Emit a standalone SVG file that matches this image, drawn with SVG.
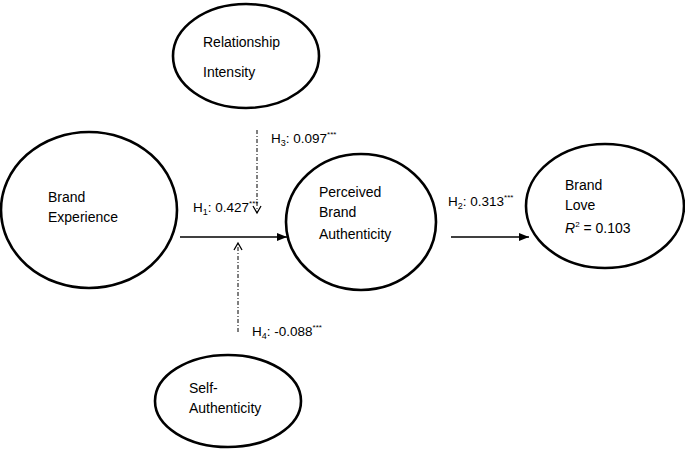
<svg xmlns="http://www.w3.org/2000/svg" width="685" height="449" viewBox="0 0 685 449">
<defs>
<marker id="solid" markerWidth="10" markerHeight="8" refX="10" refY="4" orient="auto" markerUnits="userSpaceOnUse">
<path d="M0,0 L10,4 L0,8 Z" fill="#000"/>
</marker>
<marker id="open" markerWidth="10" markerHeight="10" refX="8" refY="5" orient="auto" markerUnits="userSpaceOnUse">
<path d="M1,1 L8,5 L1,9" fill="none" stroke="#000" stroke-width="1.3"/>
</marker>
</defs>
<style>
.node ellipse{fill:#fff;stroke:#000;stroke-width:2.6}
text{font-family:"Liberation Sans",Arial,sans-serif;font-size:14px;fill:#000}
.lbl{font-size:13.5px}
.sup{font-size:8px}
.sub{font-size:9px}
.solid{stroke:#000;stroke-width:1.3;fill:none}
.dd{stroke:#000;stroke-width:1;fill:none;stroke-dasharray:4 2 1 2}
</style>
<rect width="685" height="449" fill="#fff"/>
<g id="relationship-intensity" class="node">
<ellipse cx="246" cy="56" rx="73" ry="52"/>
<text x="203" y="47">Relationship</text>
<text x="203" y="77">Intensity</text>
</g>
<g id="brand-experience" class="node">
<ellipse cx="89" cy="210" rx="88" ry="78"/>
<text x="48" y="202">Brand</text>
<text x="48" y="222">Experience</text>
</g>
<g id="perceived-brand-authenticity" class="node">
<ellipse cx="361" cy="222" rx="75" ry="68"/>
<text x="319" y="197">Perceived</text>
<text x="319" y="217">Brand</text>
<text x="319" y="239">Authenticity</text>
</g>
<g id="brand-love" class="node">
<ellipse cx="605" cy="206" rx="79" ry="62"/>
<text x="565" y="190">Brand</text>
<text x="565" y="210">Love</text>
<text x="565" y="233"><tspan font-style="italic">R</tspan><tspan class="sup" dy="-6">2</tspan><tspan dy="6"> = 0.103</tspan></text>
</g>
<g id="self-authenticity" class="node">
<ellipse cx="228" cy="401" rx="73" ry="46"/>
<text x="189" y="393">Self-</text>
<text x="189" y="413">Authenticity</text>
</g>
<g id="connectors">
<line class="solid" x1="180" y1="237" x2="287" y2="237" marker-end="url(#solid)"/>
<line class="solid" x1="451" y1="237" x2="529" y2="237" marker-end="url(#solid)"/>
<line class="dd" x1="257" y1="130" x2="257" y2="213" marker-end="url(#open)"/>
<line class="dd" x1="238" y1="332" x2="238" y2="243" marker-end="url(#open)"/>
</g>
<g id="labels">
<text class="lbl" x="193" y="212">H<tspan class="sub" dy="3">1</tspan><tspan dy="-3">: 0.427</tspan><tspan class="sup" dy="-6">***</tspan></text>
<text class="lbl" x="271" y="143">H<tspan class="sub" dy="3">3</tspan><tspan dy="-3">: 0.097</tspan><tspan class="sup" dy="-6">***</tspan></text>
<text class="lbl" x="448" y="206">H<tspan class="sub" dy="3">2</tspan><tspan dy="-3">: 0.313</tspan><tspan class="sup" dy="-6">***</tspan></text>
<text class="lbl" x="252" y="336">H<tspan class="sub" dy="3">4</tspan><tspan dy="-3">: -0.088</tspan><tspan class="sup" dy="-6">***</tspan></text>
</g>
</svg>
